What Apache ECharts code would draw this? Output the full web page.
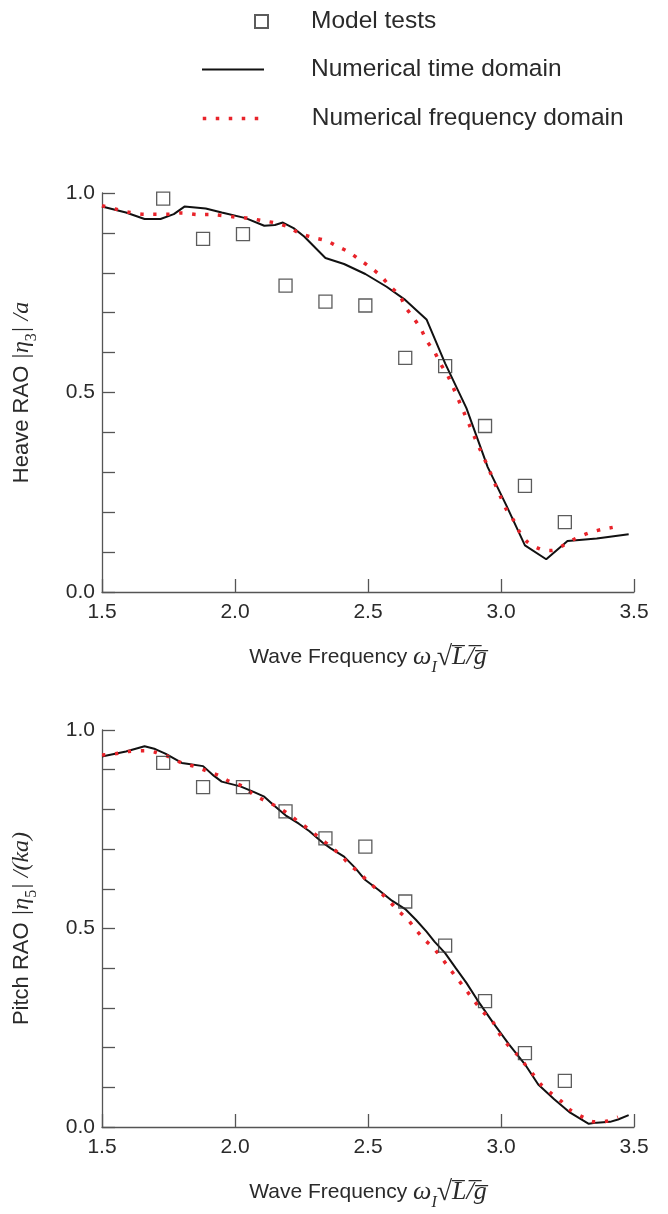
<!DOCTYPE html>
<html>
<head>
<meta charset="utf-8">
<script src="https://cdn.jsdelivr.net/npm/echarts@6/dist/echarts.min.js"></script>
<style>
html,body{margin:0;padding:0;background:#fff;}
#chart{width:668px;height:1214px;}
</style>
</head>
<body>
<div id="chart"></div>
<script>
// ---- data ----
const modelX = [1.73, 1.88, 2.03, 2.19, 2.34, 2.49, 2.64, 2.79, 2.94, 3.09, 3.24];
const heaveModel = [0.986, 0.885, 0.897, 0.768, 0.728, 0.718, 0.587, 0.566, 0.416, 0.266, 0.175];
const pitchModel = [0.917, 0.856, 0.856, 0.795, 0.727, 0.706, 0.568, 0.457, 0.317, 0.186, 0.116];

const heaveTimeX = [1.5, 1.59, 1.66, 1.72, 1.77, 1.81, 1.89, 1.95, 2.04, 2.11, 2.15, 2.18, 2.22, 2.26, 2.34, 2.41, 2.49, 2.57, 2.64, 2.72, 2.79, 2.87, 2.95, 3.02, 3.09, 3.17, 3.25, 3.36, 3.48];
const heaveTimeY = [0.966, 0.951, 0.935, 0.935, 0.947, 0.966, 0.961, 0.951, 0.937, 0.918, 0.920, 0.926, 0.912, 0.891, 0.837, 0.822, 0.797, 0.765, 0.732, 0.683, 0.573, 0.461, 0.313, 0.217, 0.117, 0.082, 0.128, 0.134, 0.145];

const heaveFreqX = [1.5, 1.55, 1.6, 1.66, 1.7, 1.75, 1.8, 1.86, 1.9, 2.0, 2.05, 2.1, 2.15, 2.2, 2.24, 2.29, 2.34, 2.38, 2.43, 2.47, 2.51, 2.55, 2.58, 2.62, 2.64, 2.67, 2.7, 2.72, 2.75, 2.77, 2.8, 2.82, 2.84, 2.86, 2.88, 2.9, 2.92, 2.94, 2.96, 2.98, 3.0, 3.02, 3.05, 3.07, 3.1, 3.15, 3.19, 3.24, 3.28, 3.33, 3.38, 3.42];
const heaveFreqY = [0.968, 0.96, 0.952, 0.947, 0.947, 0.947, 0.95, 0.946, 0.946, 0.94, 0.937, 0.931, 0.925, 0.915, 0.9, 0.889, 0.881, 0.868, 0.851, 0.832, 0.813, 0.791, 0.768, 0.742, 0.715, 0.688, 0.658, 0.63, 0.602, 0.575, 0.542, 0.513, 0.482, 0.451, 0.42, 0.389, 0.359, 0.33, 0.299, 0.267, 0.236, 0.207, 0.177, 0.15, 0.125, 0.107, 0.104, 0.119, 0.134, 0.148, 0.157, 0.162];

const pitchTimeX = [1.5, 1.59, 1.66, 1.7, 1.74, 1.8, 1.82, 1.88, 1.92, 1.95, 2.02, 2.07, 2.11, 2.15, 2.19, 2.24, 2.28, 2.33, 2.36, 2.41, 2.45, 2.49, 2.54, 2.59, 2.64, 2.68, 2.72, 2.75, 2.79, 2.83, 2.87, 2.91, 2.97, 3.03, 3.09, 3.14, 3.2, 3.26, 3.33, 3.36, 3.41, 3.44, 3.48];
const pitchTimeY = [0.933, 0.946, 0.959, 0.952, 0.94, 0.917, 0.915, 0.909, 0.885, 0.87, 0.858, 0.844, 0.832, 0.808, 0.785, 0.764, 0.745, 0.716, 0.702, 0.681, 0.654, 0.622, 0.597, 0.57, 0.549, 0.522, 0.492, 0.467, 0.438, 0.4, 0.363, 0.321, 0.263, 0.208, 0.158, 0.107, 0.07, 0.036, 0.008, 0.011, 0.013, 0.019, 0.03];

const pitchFreqX = [1.5, 1.55, 1.6, 1.66, 1.7, 1.75, 1.8, 1.85, 1.89, 1.94, 1.98, 2.03, 2.07, 2.11, 2.16, 2.2, 2.24, 2.28, 2.32, 2.36, 2.4, 2.43, 2.47, 2.5, 2.54, 2.58, 2.61, 2.65, 2.68, 2.71, 2.75, 2.78, 2.81, 2.84, 2.87, 2.9, 2.93, 2.97, 2.99, 3.02, 3.06, 3.09, 3.12, 3.15, 3.19, 3.23, 3.26, 3.31, 3.35, 3.4, 3.44];
const pitchFreqY = [0.937, 0.94, 0.946, 0.948, 0.944, 0.933, 0.917, 0.908, 0.898, 0.885, 0.87, 0.858, 0.837, 0.823, 0.806, 0.789, 0.768, 0.749, 0.727, 0.706, 0.683, 0.661, 0.639, 0.618, 0.595, 0.569, 0.547, 0.522, 0.497, 0.474, 0.448, 0.423, 0.396, 0.37, 0.344, 0.317, 0.292, 0.264, 0.239, 0.211, 0.183, 0.158, 0.133, 0.107, 0.084, 0.063, 0.043, 0.024, 0.013, 0.015, 0.025];

const xTicks = {min: 1.5, max: 3.5, interval: 0.5};
const yTicks = {min: 0, max: 1, interval: 0.1};
const seriesNames = ['Model tests', 'Numerical time domain', 'Numerical frequency domain'];

// ---- helpers ----
const zip = (xs, ys) => xs.map((x, i) => [x, ys[i]]);
const FONT = 'Liberation Sans';
const MATH = 'Liberation Serif';
const AXIS_COLOR = '#555';
const TEXT_COLOR = '#2a2a2a';
const RED = '#e8232a';
const DOTS = [3.5, 9.5];

function makeRich(tSize, mSize, sSize) {
  return {
    t: {fontFamily: FONT, fontSize: tSize, color: TEXT_COLOR, lineHeight: 30},
    m: {fontFamily: MATH, fontStyle: 'italic', fontSize: mSize, color: TEXT_COLOR, lineHeight: 30},
    r: {fontFamily: MATH, fontSize: mSize + 2, color: TEXT_COLOR, lineHeight: 30},
    s: {fontFamily: MATH, fontStyle: 'italic', fontSize: sSize, color: TEXT_COLOR, lineHeight: 37, verticalAlign: 'bottom'},
    sr: {fontFamily: MATH, fontSize: sSize, color: TEXT_COLOR, lineHeight: 37, verticalAlign: 'bottom'}
  };
}

function xAxisCfg(gridIndex) {
  return {
    type: 'value', gridIndex,
    min: xTicks.min, max: xTicks.max, interval: xTicks.interval,
    axisLine: {show: true, lineStyle: {color: AXIS_COLOR, width: 1.3}},
    axisTick: {show: true, inside: true, length: 13, lineStyle: {color: AXIS_COLOR, width: 1.3}},
    axisLabel: {margin: 10, fontFamily: FONT, fontSize: 21, color: TEXT_COLOR, formatter: v => v.toFixed(1)},
    splitLine: {show: false},
    name: '{t|Wave Frequency }{m|ω}{s|I}{r|√}{m|L̅/̅g̅}',
    nameLocation: 'middle', nameGap: 47,
    nameTextStyle: {rich: makeRich(21, 26, 16)}
  };
}
function yAxisCfg(gridIndex, name) {
  return {
    type: 'value', gridIndex,
    min: yTicks.min, max: yTicks.max, interval: yTicks.interval,
    axisLine: {show: true, lineStyle: {color: AXIS_COLOR, width: 1.3}},
    axisTick: {show: true, inside: true, length: 13, lineStyle: {color: AXIS_COLOR, width: 1.3}},
    axisLabel: {
      margin: 7, fontFamily: FONT, fontSize: 21, color: TEXT_COLOR,
      formatter: v => (Math.abs(v * 2 - Math.round(v * 2)) < 1e-6 ? v.toFixed(1) : '')
    },
    splitLine: {show: false},
    name: name,
    nameLocation: 'middle', nameGap: 62, nameRotate: 90,
    nameTextStyle: {rich: makeRich(22, 24, 16)}
  };
}
function modelSeries(idx, ys) {
  return {
    name: seriesNames[0], type: 'scatter', xAxisIndex: idx, yAxisIndex: idx,
    data: zip(modelX, ys), symbol: 'rect', symbolSize: 13,
    itemStyle: {color: 'rgba(255,255,255,0)', borderColor: '#333', borderWidth: 1.3},
    z: 5
  };
}
function timeSeries(idx, xs, ys) {
  return {
    name: seriesNames[1], type: 'line', xAxisIndex: idx, yAxisIndex: idx,
    data: zip(xs, ys), symbol: 'none', smooth: false,
    lineStyle: {color: '#111', width: 2}, itemStyle: {color: '#111'}, z: 3
  };
}
function freqSeries(idx, xs, ys) {
  return {
    name: seriesNames[2], type: 'line', xAxisIndex: idx, yAxisIndex: idx,
    data: zip(xs, ys), symbol: 'none', smooth: 0.3,
    lineStyle: {color: RED, width: 3.5, type: DOTS, cap: 'butt'}, itemStyle: {color: RED}, z: 4
  };
}

const legendText = {fontFamily: FONT, fontSize: 24.5, color: TEXT_COLOR};
const chart = echarts.init(document.getElementById('chart'), null, {renderer: 'canvas'});
chart.setOption({
  backgroundColor: '#fff',
  animation: false,
  legend: [
    {data: [seriesNames[0]], left: 249, top: 4, itemWidth: 13, itemHeight: 13, selectedMode: false,
     textStyle: Object.assign({padding: [0, 0, 0, 38]}, legendText)},
    {data: [seriesNames[1]], left: 196, top: 52, itemWidth: 62, itemHeight: 14, selectedMode: false,
     itemStyle: {opacity: 0}, lineStyle: {color: '#111', width: 2},
     textStyle: Object.assign({padding: [0, 0, 0, 42]}, legendText)},
    {data: [seriesNames[2]], left: 196, top: 101, itemWidth: 62, itemHeight: 14, selectedMode: false,
     itemStyle: {opacity: 0}, lineStyle: {color: RED, width: 3.5, type: DOTS, cap: 'butt'},
     textStyle: Object.assign({padding: [0, 0, 0, 42]}, legendText)}
  ],
  grid: [
    {left: 102, right: 34, top: 193, height: 399},
    {left: 102, right: 34, top: 730, height: 397}
  ],
  xAxis: [xAxisCfg(0), xAxisCfg(1)],
  yAxis: [
    yAxisCfg(0, '{t|Heave RAO }{m||η}{sr|3}{m|| /a}'),
    yAxisCfg(1, '{t|Pitch RAO }{m||η}{sr|5}{m|| /(ka)}')
  ],
  series: [
    modelSeries(0, heaveModel),
    timeSeries(0, heaveTimeX, heaveTimeY),
    freqSeries(0, heaveFreqX, heaveFreqY),
    modelSeries(1, pitchModel),
    timeSeries(1, pitchTimeX, pitchTimeY),
    freqSeries(1, pitchFreqX, pitchFreqY)
  ]
});
</script>
</body>
</html>
